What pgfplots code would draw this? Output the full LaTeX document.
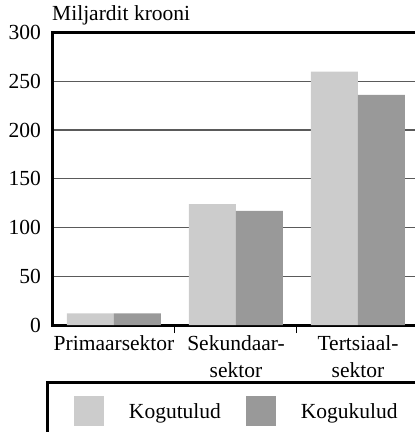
\documentclass[border=0pt]{standalone}
\usepackage{fontspec}
\setmainfont{Liberation Serif}
\usepackage{pgfplots}
\pgfplotsset{compat=1.18}
\definecolor{lightbar}{RGB}{204,204,204}
\definecolor{darkbar}{RGB}{153,153,153}
\definecolor{gridc}{RGB}{90,90,90}
\begin{document}
\begin{tikzpicture}
\useasboundingbox (0,0) rectangle (415pt,432pt);
\clip (0,0) rectangle (415pt,432pt);
\begin{axis}[
  at={(53pt,107pt)}, anchor=south west,
  scale only axis, width=366pt, height=292.5pt,
  ybar=0pt, bar width=47pt,
  xmin=-0.5, xmax=2.5, ymin=0, ymax=300,
  xtick={0,1,2},
  xticklabels={Primaarsektor,{Sekundaar-\\sektor},{Tertsiaal-\\sektor}},
  minor xtick={0.5,1.5},
  ytick={0,50,...,300},
  xtick pos=bottom, ytick pos=left,
  major tick length=0pt, minor tick length=8pt,
  minor tick style={black, line width=1pt},
  ymajorgrids, grid style={gridc, line width=1.1pt},
  axis line style={line width=3pt},
  /pgf/number format/assume math mode=true,
  tick label style={font=\fontsize{21.5}{27}\selectfont},
  xticklabel style={align=center, inner sep=0pt, anchor=north, yshift=-10pt},
  yticklabel style={inner sep=0pt, anchor=east, xshift=-12pt},
  title={Miljardit krooni},
  title style={at={(axis description cs:0,1)}, anchor=base west, inner sep=0pt, yshift=6.5pt, xshift=-1pt, font=\fontsize{21.5}{27}\selectfont},
  legend columns=2,
  legend style={at={(axis description cs:-0.0178,-0.191)}, anchor=north west,
    draw=black, line width=3pt, inner xsep=26pt, inner ysep=14pt,
    column sep=25pt, font=\fontsize{21.5}{27}\selectfont,
    nodes={inner sep=0pt}},
]
\addplot[fill=lightbar, draw=none,
  legend image code/.code={\fill[lightbar] (0pt,-15pt) rectangle (30pt,15pt);}]
  coordinates {(0,12) (1,124) (2,260)};
\addplot[fill=darkbar, draw=none,
  legend image code/.code={\fill[darkbar] (0pt,-15pt) rectangle (30pt,15pt);}]
  coordinates {(0,12) (1,117) (2,236)};
\legend{Kogutulud,Kogukulud}
\end{axis}
\end{tikzpicture}
\end{document}
